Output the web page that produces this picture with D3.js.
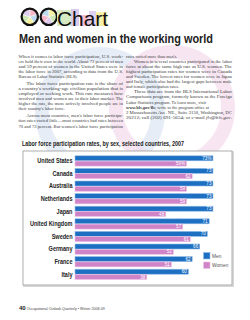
<!DOCTYPE html>
<html><head><meta charset="utf-8">
<script src="https://cdn.jsdelivr.net/npm/d3@7"></script>
<style>html,body{margin:0;padding:0;background:#fff;}svg{display:block;}</style>
</head><body>
<script>
const countries = ["United States","Canada","Australia","Netherlands","Japan","United Kingdom","Sweden","Germany","France","Italy"];
const men   = [73,73,73,73,73,71,70,66,62,60];
const women = [59,62,59,59,48,57,61,52,51,38];
const valueSuffix = ["%","","","","","","","","",""];
const seriesNames = ["Men","Women"];
const seriesColors = ["#1d6fc2","#cf84c8"];
const seriesLight  = ["#8fbbe6","#edc3e8"];

const leftCol = [
 ["When it comes to labor force participation, U.S. work-",0,1],
 ["ers hold their own in the world. About 73 percent of men",0,1],
 ["and 59 percent of women in the United States were in",0,1],
 ["the labor force in 2007, according to data from the U.S.",0,1],
 ["Bureau of Labor Statistics (BLS).",0,0],
 ["The labor force participation rate is the share of",1,1],
 ["a country's working-age civilian population that is",0,1],
 ["employed or seeking work. This rate measures how",0,1],
 ["involved men and women are in their labor market. The",0,1],
 ["higher the rate, the more actively involved people are in",0,1],
 ["their country's labor force.",0,0],
 ["Across most countries, men's labor force participa-",1,1],
 ["tion rates varied little\u2014most countries had rates between",0,1],
 ["70 and 73 percent. But women's labor force participation",0,1]
];
const rightCol = [
 ["rates varied more than men's.",0,0],
 ["Women in several countries participated in the labor",1,1],
 ["force at about the same high rate as U.S. women. The",0,1],
 ["highest participation rates for women were in Canada",0,1],
 ["and Sweden. The lowest rates for women were in Japan",0,1],
 ["and Italy, which also had the largest gaps between male",0,1],
 ["and female participation rates.",0,0],
 ["These data are from the BLS International Labor",1,1],
 ["Comparisons program, formerly known as the Foreign",0,1],
 ["Labor Statistics program. To learn more, visit",0,0],
 ["www.bls.gov/fls; write to the program office at",0,0],
 ["2 Massachusetts Ave. NE., Suite 2150, Washington, DC",0,1],
 ["20212; call (202) 691-5654; or e-mail fls@bls.gov.",0,1]
];

const W = 250, H = 320;
const svg = d3.select("body").append("svg").attr("width",W).attr("height",H);

// faint watermark rings
svg.append("circle").attr("cx",100).attr("cy",112).attr("r",58)
  .attr("fill","none").attr("stroke","#dce6f3").attr("stroke-width",14).attr("opacity",0.7);
svg.append("circle").attr("cx",172).attr("cy",108).attr("r",56)
  .attr("fill","none").attr("stroke","#f4dcec").attr("stroke-width",14).attr("opacity",0.7);

// Logo
const pieCols = ["#f5b8c8","#bcd9ef","#f6f0a2","#cde8b4","#dccbee"];
const pie = d3.pie().sort(null).value(1);
const arc = d3.arc().innerRadius(0).outerRadius(8.2);
[[29.8,16.8],[48.8,16.8]].forEach((c,ci)=>{
  const g = svg.append("g").attr("transform",`translate(${c[0]},${c[1]})`);
  g.selectAll("path").data(pie([1,1,1,1,1])).join("path")
    .attr("d",arc).attr("fill",(d,i)=>pieCols[(i+ci*2)%5]).attr("stroke","#fff").attr("stroke-width",0.4);
  g.append("circle").attr("r",8.2).attr("fill","none").attr("stroke","#111").attr("stroke-width",2.2);
});
const logoBars = [[57,10,14,"#d6ebc4"],[71,9,8,"#d9c9ee"],[80,15,9,"#f6bfd0"],[89,11,7,"#ddd0f0"],[96,12,11,"#f6f0a8"]];
logoBars.forEach(b=>svg.append("rect").attr("x",b[0]).attr("y",b[1]).attr("width",b[2]).attr("height",26-b[1]).attr("fill",b[3]));
svg.append("text").attr("x",57).attr("y",25.5).attr("font-family","Liberation Sans, Arial, sans-serif")
  .attr("font-size",21).attr("fill","#111").attr("textLength",51).attr("lengthAdjust","spacingAndGlyphs")
  .text("Chart");

// Title
svg.append("text").attr("x",19).attr("y",43).attr("font-family","'Liberation Sans Narrow','Liberation Sans',Arial,sans-serif")
  .attr("font-weight","bold").attr("font-size",13).attr("fill","#222")
  .attr("textLength",194).attr("lengthAdjust","spacingAndGlyphs")
  .text("Men and women in the working world");

// Body text
function drawCol(lines, x0, width, y0, paraGaps){
  let y = y0;
  lines.forEach((l,i)=>{
    if(i>0 && l[1]===1 && paraGaps) y += 1.8;
    const ind = l[1]? 8 : 0;
    const t = svg.append("text").attr("x",x0+ind).attr("y",y)
      .attr("font-family","'Liberation Serif','Times New Roman',serif").attr("font-size",4.4).attr("fill","#3a3a3a");
    if(l[2]) t.attr("textLength",width-ind).attr("lengthAdjust","spacingAndGlyphs");
    const s = l[0];
    if(s.startsWith("www.bls.gov/fls")){
      t.append("tspan").attr("font-weight","bold").text("www.bls.gov/fls");
      t.append("tspan").text(s.slice(15));
    } else if(s.includes("fls@bls.gov")){
      const k = s.indexOf("fls@bls.gov");
      t.append("tspan").text(s.slice(0,k));
      t.append("tspan").attr("font-style","italic").text("fls@bls.gov");
      t.append("tspan").text(s.slice(k+11));
    } else t.text(s);
    y += 5.1;
  });
}
drawCol(leftCol, 18.5, 104.5, 57.6, true);
drawCol(rightCol, 126, 106, 57.6, false);

// Chart title
svg.append("text").attr("x",22).attr("y",145.5).attr("font-family","'Liberation Sans Narrow','Liberation Sans',Arial,sans-serif")
  .attr("font-weight","bold").attr("font-size",6.8).attr("fill","#222")
  .attr("textLength",162).attr("lengthAdjust","spacingAndGlyphs")
  .text("Labor force participation rates, by sex, selected countries, 2007");

// Box
svg.append("rect").attr("x",23.5).attr("y",151.5).attr("width",209).attr("height",134)
  .attr("fill","none").attr("stroke","#d4d4d4").attr("stroke-width",1.6).attr("transform","translate(0.6,0.6)");
svg.append("rect").attr("x",23).attr("y",151).attr("width",209).attr("height",134)
  .attr("fill","#fff").attr("stroke","#9a9a9a").attr("stroke-width",0.8);

// Scales
const x = d3.scaleLinear().domain([0,100]).range([75,264]);
const y = d3.scaleBand().domain(countries).range([154.5,280.5]).paddingInner(0.16).paddingOuter(0.08);
const ys = d3.scaleBand().domain(seriesNames).range([0,y.bandwidth()]);

const data = countries.map((c,i)=>({c, vals:[men[i],women[i]], suf:valueSuffix[i]}));
const rows = svg.append("g").selectAll("g").data(data).join("g")
  .attr("transform",d=>`translate(0,${y(d.c)})`);

rows.append("text").attr("transform",`translate(72.5,${y.bandwidth()/2+2.3}) scale(0.8,1)`)
  .attr("text-anchor","end")
  .attr("font-family","'Liberation Sans Narrow','Liberation Sans',Arial,sans-serif")
  .attr("font-weight","bold").attr("font-size",6.9).attr("fill","#222").text(d=>d.c);

seriesNames.forEach((s,si)=>{
  rows.append("rect").attr("x",x(0)).attr("y",ys(s)+0.3)
    .attr("width",d=>x(d.vals[si])-x(0)).attr("height",ys.bandwidth()-0.3)
    .attr("fill",seriesColors[si]).attr("stroke",seriesLight[si]).attr("stroke-width",0.6);
  rows.append("text").attr("x",d=>x(d.vals[si])-1.5).attr("y",ys(s)+ys.bandwidth()/2+1.7)
    .attr("text-anchor","end").attr("font-family","'Liberation Sans Narrow','Liberation Sans',Arial,sans-serif")
    .attr("font-size",4.6).attr("fill","#fff").text(d=>d.vals[si]+d.suf);
});

// Legend
seriesNames.forEach((s,i)=>{
  const ly = 252.5 + i*9.5;
  svg.append("rect").attr("x",203.5).attr("y",ly).attr("width",6.5).attr("height",6.5)
    .attr("fill",seriesColors[i]).attr("stroke",seriesLight[i]).attr("stroke-width",0.6);
  svg.append("text").attr("x",212).attr("y",ly+5).attr("font-family","'Liberation Sans',Arial,sans-serif")
    .attr("font-size",4.8).attr("fill","#555").text(s);
});

// Footer
const f = svg.append("text").attr("x",19).attr("y",310).attr("font-family","'Liberation Sans',Arial,sans-serif").attr("fill","#444");
f.append("tspan").attr("font-weight","bold").attr("font-size",6).attr("fill","#222").text("40");
f.append("tspan").attr("font-size",3.6).attr("dx",1).text("Occupational Outlook Quarterly \u2022 Winter 2008-09");
</script>
</body></html>
